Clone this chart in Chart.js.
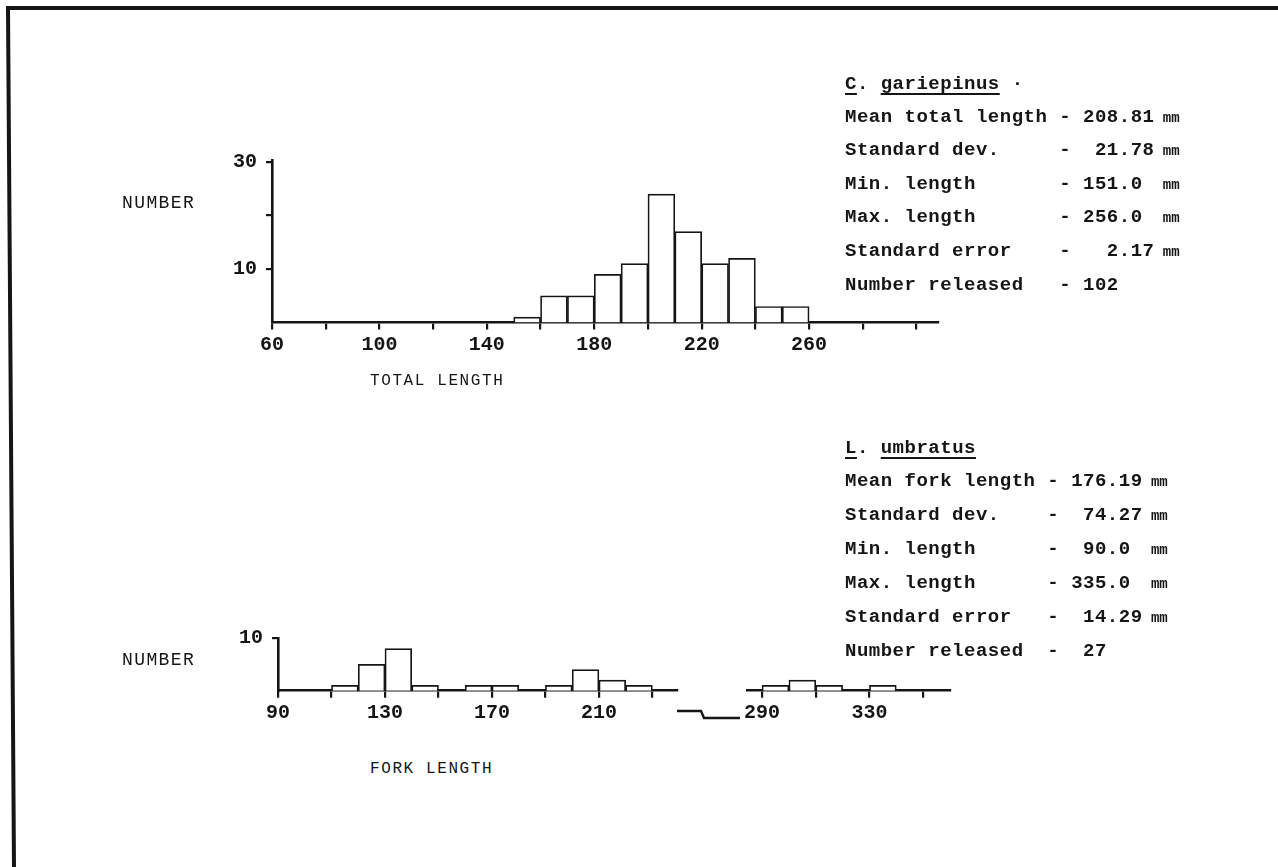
<!DOCTYPE html>
<html>
<head>
<meta charset="utf-8">
<script src="https://cdn.jsdelivr.net/npm/chart.js@4.4.1/dist/chart.umd.min.js"></script>
<style>
  html, body { margin: 0; padding: 0; background: #fff; }
  body { width: 1278px; height: 867px; position: relative; overflow: hidden; }
  .box { position: absolute; }
  .txt {
    position: absolute;
    font-family: "Liberation Mono", "DejaVu Sans Mono", monospace;
    color: #151515;
    white-space: pre;
  }
  .stats { font-size: 19px; font-weight: bold; letter-spacing: 0.5px; }
  .stats u { text-decoration-thickness: 2px; text-underline-offset: 4px; }
  .stats .mm { font-size: 14px; letter-spacing: 0; }
  .axis-title { font-size: 16px; letter-spacing: 1.6px; }
  .y-title { font-size: 18px; letter-spacing: 1.4px; }
</style>
</head>
<body>

<svg class="box" style="left:0;top:0" width="1278" height="867">
  <polyline points="14,867 8,8 1278,8" fill="none" stroke="#151515" stroke-width="4"/>
</svg>

<div class="box" style="left:0;top:0;width:1000px;height:400px"><canvas id="total-chart" width="1000" height="400"></canvas></div>
<div class="box" style="left:0;top:560px;width:760px;height:200px"><canvas id="fork-low-chart" width="760" height="200"></canvas></div>
<div class="box" style="left:700px;top:560px;width:300px;height:200px"><canvas id="fork-high-chart" width="300" height="200"></canvas></div>

<div class="txt y-title" style="left:122px;top:193px">NUMBER</div>
<div class="txt y-title" style="left:122px;top:650px">NUMBER</div>
<div class="txt axis-title" style="left:370px;top:372px">TOTAL LENGTH</div>
<div class="txt axis-title" style="left:370px;top:760px">FORK LENGTH</div>

<div class="txt stats" id="stats-top" style="left:845px;top:68px;line-height:32.6px"></div>
<div class="txt stats" id="stats-bottom" style="left:845px;top:432px;line-height:33px"></div>

<script>
// --- C. gariepinus, total length (10 mm classes, lower edge) ---
const totalBins = [150, 160, 170, 180, 190, 200, 210, 220, 230, 240, 250];
const totalCounts = [1, 5, 5, 9, 11, 24, 17, 11, 12, 3, 3];
const totalXTicks = [60, 80, 100, 120, 140, 160, 180, 200, 220, 240, 260, 280, 300];
const totalXLabels = [60, 100, 140, 180, 220, 260];
const totalYTicks = [10, 20, 30];
const totalYLabels = [10, 30];

// --- L. umbratus, fork length (axis is broken between 240 and 285) ---
const forkBinsLow = [110, 120, 130, 140, 160, 170, 190, 200, 210, 220];
const forkCountsLow = [1, 5, 8, 1, 1, 1, 1, 4, 2, 1];
const forkBinsHigh = [290, 300, 310, 330];
const forkCountsHigh = [1, 2, 1, 1];
const forkXTicksLow = [90, 110, 130, 150, 170, 190, 210, 230];
const forkXLabelsLow = [90, 130, 170, 210];
const forkXTicksHigh = [290, 310, 330, 350];
const forkXLabelsHigh = [290, 330];
const forkYTicks = [10];

const statsTop = [
    ['Mean total length - 208.81', ' mm'],
    ['Standard dev.     -  21.78', ' mm'],
    ['Min. length       - 151.0 ', ' mm'],
    ['Max. length       - 256.0 ', ' mm'],
    ['Standard error    -   2.17', ' mm'],
    ['Number released   - 102', '']
];
const statsBottom = [
    ['Mean fork length - 176.19', ' mm'],
    ['Standard dev.    -  74.27', ' mm'],
    ['Min. length      -  90.0 ', ' mm'],
    ['Max. length      - 335.0 ', ' mm'],
    ['Standard error   -  14.29', ' mm'],
    ['Number released  -  27', '']
];

const INK = '#151515';
const tickFont = { family: '"Liberation Mono", "DejaVu Sans Mono", monospace', size: 20, weight: 'bold' };

function fillStats(id, title, rows) {
    const el = document.getElementById(id);
    let html = title + '\n';
    rows.forEach(r => {
        html += r[0] + (r[1] ? '<span class="mm">' + r[1] + '</span>' : '') + '\n';
    });
    el.innerHTML = html;
}
fillStats('stats-top', '<u>C</u>. <u>gariepinus</u> \u00b7', statsTop);
fillStats('stats-bottom', '<u>L</u>. <u>umbratus</u>', statsBottom);

function toPoints(bins, counts) {
    return bins.map((b, i) => ({ x: b + 5, y: counts[i] }));
}

function xScale(min, max, ticks, labels) {
    return {
        type: 'linear',
        min: min,
        max: max,
        offset: false,
        z: 1,
        afterFit: (scale) => { scale.height = 50; },
        afterBuildTicks: (scale) => { scale.ticks = ticks.map(v => ({ value: v })); },
        grid: { offset: false, drawOnChartArea: false, drawTicks: true, tickLength: 7, color: INK, lineWidth: 2.2 },
        border: { display: true, color: INK, width: 2.6 },
        ticks: {
            autoSkip: false,
            maxRotation: 0,
            padding: 3,
            color: INK,
            font: tickFont,
            callback: (v) => labels.includes(v) ? String(v) : ''
        }
    };
}

function yScale(max, ticks, labels, show) {
    return {
        type: 'linear',
        display: show,
        min: 0,
        max: max,
        afterFit: (scale) => { scale.width = show ? 60 : 0; },
        afterBuildTicks: (scale) => { scale.ticks = ticks.map(v => ({ value: v })); },
        grid: { drawOnChartArea: false, drawTicks: true, tickLength: 6, color: INK, lineWidth: 2.2 },
        border: { display: true, color: INK, width: 2.6 },
        ticks: {
            padding: 9,
            color: INK,
            font: tickFont,
            callback: (v) => labels.includes(v) ? String(v) : ''
        }
    };
}

function barDataset(points) {
    return {
        data: points,
        backgroundColor: '#ffffff',
        borderColor: INK,
        borderWidth: 1.7,
        barPercentage: 1,
        categoryPercentage: 1
    };
}

const commonOptions = {
    responsive: false,
    animation: false,
    devicePixelRatio: 1,
    plugins: { legend: { display: false }, tooltip: { enabled: false } }
};

// --- Top histogram ---
new Chart(document.getElementById('total-chart'), {
    type: 'bar',
    data: { datasets: [barDataset(toPoints(totalBins, totalCounts))] },
    options: {
        ...commonOptions,
        layout: { padding: { left: 212, right: 62, top: 160.5, bottom: 27.5 } },
        scales: {
            x: xScale(60, 308, totalXTicks, totalXLabels),
            y: yScale(30.3, totalYTicks, totalYLabels, true)
        }
    }
});

// break mark on the fork length axis
const axisBreak = {
    id: 'axisBreak',
    afterDraw(chart) {
        const ctx = chart.ctx;
        ctx.save();
        ctx.strokeStyle = INK;
        ctx.lineWidth = 2.4;
        ctx.beginPath();
        ctx.moveTo(677, 151);
        ctx.lineTo(701, 151);
        ctx.lineTo(704, 158);
        ctx.lineTo(740, 158);
        ctx.stroke();
        ctx.restore();
    }
};

// --- Bottom histogram, left part ---
new Chart(document.getElementById('fork-low-chart'), {
    type: 'bar',
    data: { datasets: [barDataset(toPoints(forkBinsLow, forkCountsLow))] },
    options: {
        ...commonOptions,
        layout: { padding: { left: 218, right: 83, top: 78, bottom: 19.3 } },
        scales: {
            x: xScale(90, 239.2, forkXTicksLow, forkXLabelsLow),
            y: yScale(10, forkYTicks, forkYTicks, true)
        }
    },
    plugins: [axisBreak]
});

// --- Bottom histogram, right part ---
new Chart(document.getElementById('fork-high-chart'), {
    type: 'bar',
    data: { datasets: [barDataset(toPoints(forkBinsHigh, forkCountsHigh))] },
    options: {
        ...commonOptions,
        layout: { padding: { left: 47, right: 50, top: 78, bottom: 19.3 } },
        scales: {
            x: xScale(284.4, 360, forkXTicksHigh, forkXLabelsHigh),
            y: yScale(10, forkYTicks, [], false)
        }
    }
});
</script>
</body>
</html>
